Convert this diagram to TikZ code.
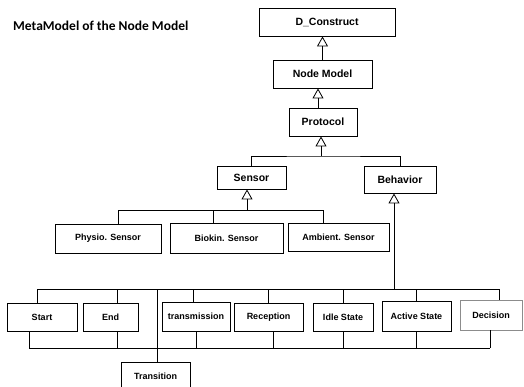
\documentclass[tikz,border=0pt]{standalone}
\usepackage{fontspec}
\setmainfont{Liberation Sans}
\newfontfamily\titlefont{Carlito}
\usetikzlibrary{arrows.meta, calc}

\begin{document}
\begin{tikzpicture}[x=1pt, y=-1pt,
    box/.style={draw, line width=0.9pt, inner sep=0pt, align=center, font=\bfseries\fontsize{9}{11}\selectfont},
    bigbox/.style={box, font=\bfseries\fontsize{10.5}{12}\selectfont},
    link/.style={line width=0.8pt},
    isa/.style={link, -{Triangle[open, length=10pt, width=11pt]}}]
  \useasboundingbox (0,0) rectangle (524,387);
  \clip (0,0) rectangle (524,387);

  \node[anchor=base west, inner sep=0pt, font=\titlefont\bfseries\fontsize{13.5}{15}\selectfont] (title) at (13,30.7) {MetaModel of the Node Model};

  % upper hierarchy
  \node[bigbox, minimum width=136pt, minimum height=28pt] (dcon) at (327,22) {D\_Construct};
  \node[bigbox, minimum width=99pt, minimum height=28pt] (nodemodel) at (322.5,74) {Node Model};
  \node[bigbox, minimum width=68pt, minimum height=28pt] (protocol) at (323,122) {Protocol};
  \node[bigbox, minimum width=69pt, minimum height=23pt] (sensor) at (251.5,177.5) {Sensor};
  \node[bigbox, minimum width=72pt, minimum height=27pt] (behavior) at (400,179.5) {Behavior};

  % sensors
  \node[box, minimum width=106pt, minimum height=29pt] (physio) at (108,238.5) {Physio. Sensor};
  \node[box, line width=1pt, minimum width=113pt, minimum height=29pt] (biokin) at (226.5,238.5) {Biokin. Sensor};
  \node[box, line width=1pt, minimum width=101pt, minimum height=27pt] (ambient) at (338.5,237.5) {Ambient. Sensor};

  % behaviors
  \node[box, minimum width=70pt, minimum height=28pt] (start) at (42,317) {Start};
  \node[box, minimum width=55pt, minimum height=28pt] (end) at (110.5,317) {End};
  \node[box, minimum width=68pt, minimum height=29pt] (trans) at (196,316.5) {transmission};
  \node[box, minimum width=69pt, minimum height=28pt] (recep) at (268.5,317) {Reception};
  \node[box, minimum width=60pt, minimum height=28pt] (idle) at (343,317) {Idle State};
  \node[box, minimum width=69pt, minimum height=30pt] (active) at (416.5,316) {Active State};
  \node[box, draw=black!45, minimum width=62pt, minimum height=30pt] (decision) at (491,315) {Decision};
  \node[box, minimum width=69pt, minimum height=28pt] (transition) at (155.5,376) {Transition};

  % generalisations
  \draw[isa] (nodemodel.north) -- (nodemodel.north |- dcon.south);
  \draw[isa] ($(protocol.north)+(-5,0)$) -- ($(protocol.north |- nodemodel.south)+(-5,0)$);

  \coordinate (pbar) at (321,156);
  \draw[isa] (pbar) -- (pbar |- protocol.south);
  \draw[link] (sensor.north) |- (pbar) -| (behavior.north);

  \coordinate (sbar) at (247,210);
  \draw[isa] (sbar) -- (sbar |- sensor.south);
  \coordinate (d1) at ($(physio.north)+(10,0)$);
  \coordinate (d2) at ($(biokin.north)+(-13.5,0)$);
  \coordinate (d3) at ($(ambient.north)+(-15.5,0)$);
  \draw[link] (d1) |- (d3 |- sbar) -- (d3);
  \draw[link] (d2) -- (d2 |- sbar);

  \coordinate (tbar) at (394,289);
  \coordinate (lbar) at (157,348);
  \draw[isa] (tbar) -- (tbar |- behavior.south);
  \draw[link] ($(start.north |- tbar)+(-5,0)$) -- ($(decision.north |- tbar)+(8,0)$);
  \draw[link] ($(start.south |- lbar)+(-13,0)$) -- ($(decision.south |- lbar)+(-1,0)$);
  \foreach \n/\a/\b in {start/-5/-13, end/6.5/6.5, trans/-3/0, recep/0/4.5, idle/0/0, active/0/0, decision/8/-1} {
    \draw[link] ($(\n.north)+(\a,0)$) -- ($(\n.north |- tbar)+(\a,0)$);
    \draw[link] ($(\n.south)+(\b,0)$) -- ($(\n.south |- lbar)+(\b,0)$);
  }
  \draw[link] ($(transition.north |- tbar)+(1.5,0)$) -- ($(transition.north)+(1.5,0)$);
\end{tikzpicture}
\end{document}
